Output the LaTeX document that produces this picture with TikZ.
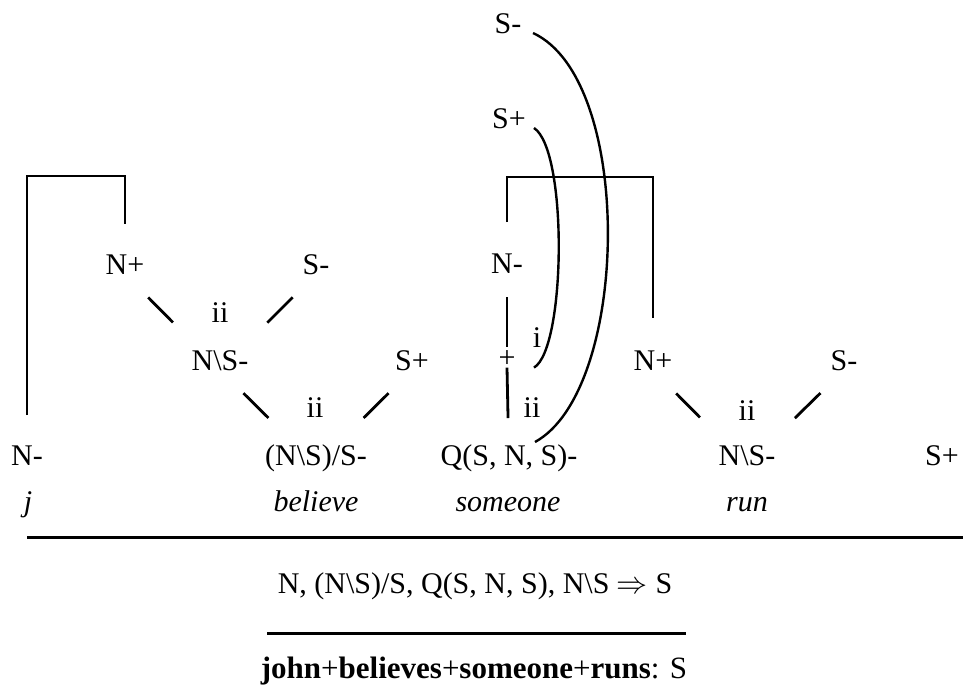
\documentclass[tikz,border=0pt]{standalone}
\usepackage{fontspec}
\setmainfont{Liberation Serif}
\usepackage{amsmath,amssymb}
\usepackage{graphicx}
\usepackage{tikz}
\usetikzlibrary{calc}

\begin{document}
\begin{tikzpicture}[
        x=1pt,y=-1pt,
        font=\fontsize{30}{36}\selectfont,
        lit/.style={anchor=base,inner sep=0pt},
        word/.style={anchor=base,inner sep=0pt,font=\fontsize{30}{36}\selectfont\itshape},
        tie/.style={line width=2.8pt,shorten <=33pt,shorten >=67pt},
        axlink/.style={line width=2.8pt},
        curve/.style={line width=2.4pt},
        rule/.style={line width=3pt}
      ]
        \useasboundingbox (0,0) rectangle (963,691);

        \node[lit] (nj) at (27,465){N-};
        \node[lit] (np1) at (125,274){N+};
        \node[lit] (sm1) at (316,274){S-};
        \node[lit] (ns1) at (220,370){N\textbackslash S-};
        \node[lit] (sp1) at (412,370){S+};
        \node[lit] (nsb) at (316,465){(N\textbackslash S)/S-};
        \node[lit] (iia) at (220,322){ii};
        \node[lit] (iib) at (315,417){ii};

        \node[lit] (smq) at (508,33){S-};
        \node[lit] (spq) at (509,128){S+};
        \node[lit] (nq) at (507,273){N-};
        \node[lit] (pl) at (507,367.6){+};
        \node[lit] (iq) at (537,347){i};
        \node[lit] (iiq) at (532,417){ii};
        \node[lit] (qq) at (509,465){Q(S, N, S)-};

        \node[lit] (npr) at (653,370){N+};
        \node[lit] (smr) at (844,370){S-};
        \node[lit] (nsr) at (747,465){N\textbackslash S-};
        \node[lit] (spr) at (942,465){S+};
        \node[lit] (iir) at (747,420){ii};

        \node[word] (wj) at (28,511){j};
        \node[word] (wb) at (316,511){believe};
        \node[word] (ws) at (508,511){someone};
        \node[word] (wr) at (747,511){run};

        \draw[tie](np1.base)--(ns1.base); \draw[tie](sm1.base)--(ns1.base);
        \draw[tie](ns1.base)--(nsb.base); \draw[tie](sp1.base)--(nsb.base);
        \draw[tie](npr.base)--(nsr.base); \draw[tie](smr.base)--(nsr.base);

        \draw[axlink,shorten <=24pt,shorten >=20.6pt](nq.base)--(pl.base);
        \draw[axlink,shorten >=47pt](pl.base)--(qq.base);

        \draw[axlink,shorten <=50pt,shorten >=50pt](nj.base)--++(0,-289)-|(np1.base);
        \draw[axlink,shorten <=51pt,shorten >=52pt](nq.base)--++(0,-96)-|(npr.base);

        \draw[curve]([xshift=25pt]smq.base) .. controls +(102,47) and +(95,-52) .. ([xshift=26pt,yshift=23pt]qq.base);
        \draw[curve]([xshift=25pt]spq.base) .. controls +(34,22) and +(32,-19) .. ([xshift=27pt]pl.base);

        \draw[rule](27,537)--(963,537);
        \node[lit] (seq) at (475,593){N, (N\textbackslash S)/S, Q(S, N, S), N\textbackslash S \scalebox{1.25}{$\Rightarrow$} S};
        \draw[rule](267,633)--(686,633);
        \node[lit,font=\fontsize{31}{36}\selectfont] (res) at (474,678){\textbf{john}+\textbf{believes}+\textbf{someone}+\textbf{runs}: S};
      \end{tikzpicture}
\end{document}
